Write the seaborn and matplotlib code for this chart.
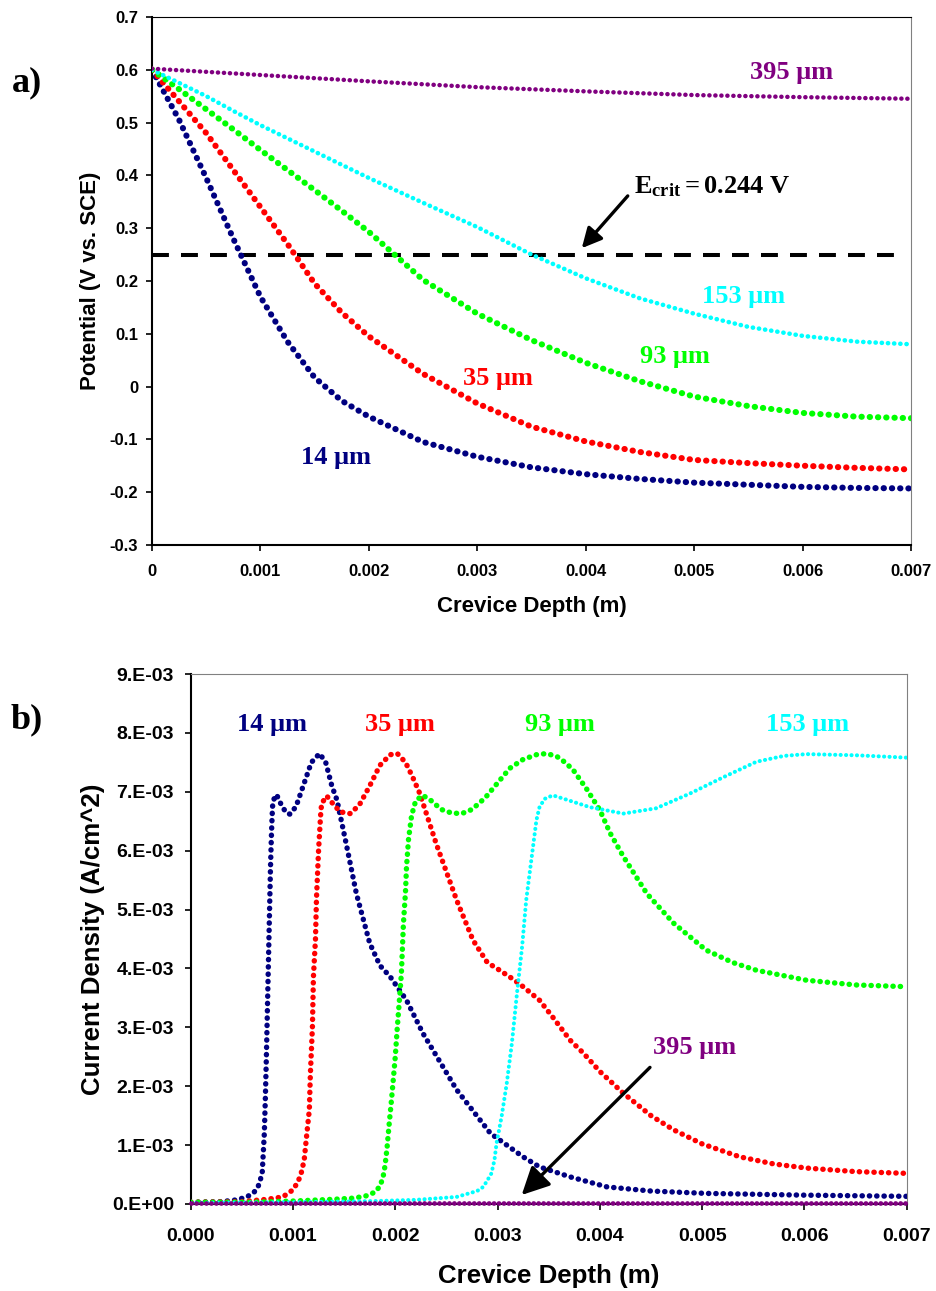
import matplotlib
matplotlib.use("Agg")
import matplotlib.pyplot as plt
import seaborn as sns
import pandas as pd

# ---------------- panel a) potential vs crevice depth ----------------
depth_a = [0, 0.00025, 0.0005, 0.00075, 0.001, 0.00125, 0.0015, 0.00175, 0.002,
           0.0025, 0.003, 0.0035, 0.004, 0.0045, 0.005, 0.0055, 0.006, 0.0065, 0.007]
pot_14 = [0.60, 0.505, 0.395, 0.28, 0.17, 0.085, 0.017, -0.027, -0.057,
          -0.105, -0.133, -0.153, -0.166, -0.175, -0.182, -0.186, -0.190, -0.192, -0.193]
pot_35 = [0.60, 0.54, 0.48, 0.41, 0.34, 0.27, 0.195, 0.14, 0.095,
          0.024, -0.032, -0.076, -0.104, -0.124, -0.139, -0.145, -0.150, -0.154, -0.157]
pot_93 = [0.60, 0.563, 0.525, 0.487, 0.448, 0.41, 0.372, 0.333, 0.293,
          0.202, 0.138, 0.088, 0.045, 0.010, -0.019, -0.037, -0.050, -0.057, -0.060]
pot_153 = [0.60, 0.575, 0.55, 0.522, 0.495, 0.47, 0.445, 0.42, 0.395,
           0.348, 0.302, 0.25, 0.205, 0.167, 0.138, 0.113, 0.096, 0.085, 0.080]
depth_a395 = [0, 0.001, 0.002, 0.003, 0.004, 0.005, 0.006, 0.007]
pot_395 = [0.602, 0.590, 0.578, 0.567, 0.559, 0.552, 0.548, 0.545]
e_crit_line = 0.25
e_crit_end = 0.0069

xticks_a = [0, 0.001, 0.002, 0.003, 0.004, 0.005, 0.006, 0.007]
xticklabels_a = ["0", "0.001", "0.002", "0.003", "0.004", "0.005", "0.006", "0.007"]
yticks_a = [-0.3, -0.2, -0.1, 0, 0.1, 0.2, 0.3, 0.4, 0.5, 0.6, 0.7]
yticklabels_a = ["-0.3", "-0.2", "-0.1", "0", "0.1", "0.2", "0.3", "0.4", "0.5", "0.6", "0.7"]

# ---------------- panel b) current density vs crevice depth ----------------
d_14 = [0, 0.0003, 0.00045, 0.00055, 0.00062, 0.00066, 0.00068, 0.0007, 0.00072, 0.00073,
        0.00074, 0.00075, 0.00076, 0.00077, 0.00078, 0.00079, 0.0008, 0.00082, 0.00084,
        0.00088, 0.00093, 0.00097, 0.00103, 0.0011, 0.00118, 0.00126, 0.00132, 0.00138,
        0.00143, 0.00152, 0.00162, 0.00175, 0.00185, 0.00195, 0.00211, 0.00227, 0.0026,
        0.00293, 0.00325, 0.00341, 0.00371, 0.00407, 0.0045, 0.00504, 0.006, 0.007]
i_14 = [0.03, 0.04, 0.07, 0.12, 0.20, 0.30, 0.40, 0.55, 1.2, 1.8,
        2.5, 3.3, 4.1, 4.9, 5.7, 6.3, 6.75, 6.92, 6.95,
        6.8, 6.65, 6.62, 6.75, 7.1, 7.5, 7.65, 7.5, 7.1,
        6.86, 6.12, 5.27, 4.43, 4.05, 3.86, 3.46, 2.9, 1.94,
        1.2, 0.8, 0.63, 0.46, 0.29, 0.22, 0.18, 0.15, 0.13]
d_35 = [0, 0.0005, 0.00075, 0.0009, 0.001, 0.00105, 0.00108, 0.00111, 0.00113, 0.00116,
        0.00117, 0.00119, 0.0012, 0.00122, 0.00123, 0.00124, 0.00125, 0.00126, 0.00127,
        0.00128, 0.00133, 0.00138, 0.00146, 0.00156, 0.00165, 0.00175, 0.00185, 0.00195,
        0.00202, 0.0021, 0.00217, 0.00224, 0.0024, 0.0026, 0.00276, 0.0029, 0.00302,
        0.00315, 0.00325, 0.00341, 0.00355, 0.00371, 0.00384, 0.004, 0.00423, 0.0045,
        0.00472, 0.005, 0.00537, 0.0057, 0.00602, 0.0065, 0.007]
i_35 = [0.03, 0.04, 0.08, 0.12, 0.24, 0.38, 0.52, 0.75, 1.1, 1.6,
        2.2, 3.0, 3.86, 4.5, 5.2, 5.6, 6.0, 6.3, 6.6,
        6.8, 6.93, 6.82, 6.66, 6.63, 6.78, 7.1, 7.45, 7.63,
        7.65, 7.5, 7.25, 6.97, 6.12, 5.16, 4.48, 4.1, 3.97,
        3.82, 3.69, 3.46, 3.15, 2.78, 2.56, 2.25, 1.88, 1.5,
        1.26, 1.02, 0.80, 0.68, 0.61, 0.55, 0.52]
d_93 = [0, 0.0006, 0.001, 0.0014, 0.0016, 0.00172, 0.0018, 0.00185, 0.00188, 0.0019,
        0.00192, 0.00194, 0.00196, 0.00198, 0.002, 0.00202, 0.00204, 0.00206, 0.00208,
        0.0021, 0.00211, 0.00213, 0.00216, 0.0022, 0.00227, 0.00235, 0.00245, 0.00255,
        0.00265, 0.00275, 0.00288, 0.003, 0.00312, 0.00325, 0.00338, 0.00348, 0.00358,
        0.00366, 0.00374, 0.00387, 0.004, 0.0041, 0.00423, 0.00446, 0.00472, 0.00504,
        0.0053, 0.00553, 0.00602, 0.0065, 0.007]
i_93 = [0.03, 0.03, 0.05, 0.08, 0.10, 0.14, 0.20, 0.30, 0.45, 0.65,
        0.96, 1.35, 1.71, 2.1, 2.5, 3.0, 3.45, 3.92, 4.77,
        5.3, 5.73, 6.2, 6.6, 6.85, 6.94, 6.85, 6.7, 6.64,
        6.63, 6.7, 6.9, 7.15, 7.4, 7.55, 7.63, 7.65, 7.6,
        7.5, 7.37, 7.05, 6.69, 6.3, 5.9, 5.27, 4.77, 4.31,
        4.1, 3.97, 3.80, 3.72, 3.69]
d_153 = [0, 0.001, 0.0018, 0.0022, 0.0026, 0.0028, 0.00286, 0.0029, 0.00294, 0.00297,
         0.00299, 0.00304, 0.00309, 0.00314, 0.00319, 0.00324, 0.00328, 0.00333, 0.00338,
         0.00341, 0.00346, 0.00354, 0.00365, 0.0039, 0.00423, 0.00455, 0.00488, 0.00521,
         0.00553, 0.0058, 0.00602, 0.00651, 0.007]
i_153 = [0.02, 0.03, 0.05, 0.07, 0.12, 0.22, 0.29, 0.40, 0.52, 0.75,
         1.03, 1.49, 2.05, 2.73, 3.58, 4.37, 5.16, 5.84, 6.52,
         6.74, 6.88, 6.94, 6.88, 6.74, 6.63, 6.72, 6.97, 7.25,
         7.51, 7.61, 7.64, 7.62, 7.58]
d_395 = [0, 0.001, 0.002, 0.003, 0.004, 0.005, 0.006, 0.007]
i_395 = [0.01, 0.01, 0.01, 0.01, 0.01, 0.01, 0.01, 0.01]
i_scale = 1e-3

xticks_b = [0, 0.001, 0.002, 0.003, 0.004, 0.005, 0.006, 0.007]
xticklabels_b = ["0.000", "0.001", "0.002", "0.003", "0.004", "0.005", "0.006", "0.007"]
yticks_b = [0, 0.001, 0.002, 0.003, 0.004, 0.005, 0.006, 0.007, 0.008, 0.009]
yticklabels_b = ["0.E+00", "1.E-03", "2.E-03", "3.E-03", "4.E-03", "5.E-03",
                 "6.E-03", "7.E-03", "8.E-03", "9.E-03"]

labels = ["14 \u03bcm", "35 \u03bcm", "93 \u03bcm", "153 \u03bcm", "395 \u03bcm"]
colors = ["#000080", "#ff0000", "#00ff00", "#00ffff", "#800080"]

# ---------------- style ----------------
sns.set_theme(style="white")
plt.rcParams["font.family"] = ["Liberation Sans", "DejaVu Sans"]
plt.rcParams["font.weight"] = "bold"
plt.rcParams["axes.labelweight"] = "bold"
plt.rcParams["text.color"] = "black"
plt.rcParams["axes.labelcolor"] = "black"
plt.rcParams["mathtext.fontset"] = "custom"
plt.rcParams["mathtext.rm"] = "Liberation Serif"
plt.rcParams["mathtext.bf"] = "Liberation Serif:bold"
plt.rcParams["mathtext.it"] = "Liberation Serif:italic"

fig = plt.figure(figsize=(9.37, 12.91), dpi=100)
ax_a = fig.add_axes([0.1622, 0.5779, 0.8100, 0.4090])
ax_b = fig.add_axes([0.2035, 0.0674, 0.7642, 0.4105])

SERIF = "Liberation Serif"


def dotted(ax, x, y, color, lw, gap=1.3, clip=True, z=3):
    df = pd.DataFrame({"x": x, "y": y})
    sns.lineplot(data=df, x="x", y="y", ax=ax, color=color, linewidth=lw,
                 linestyle=(0, (0.05, gap)), dash_capstyle="round",
                 legend=False, sort=False, zorder=z, clip_on=clip)


def style(ax, xt, xtl, yt, ytl, fs, xpad, ypad):
    ax.set_xticks(xt)
    ax.set_xticklabels(xtl)
    ax.set_yticks(yt)
    ax.set_yticklabels(ytl)
    for s in ["left", "bottom"]:
        ax.spines[s].set_color("black")
        ax.spines[s].set_linewidth(1.5)
    ax.spines["top"].set_color("black")
    ax.spines["top"].set_linewidth(0.8)
    ax.spines["right"].set_color("#808080")
    ax.spines["right"].set_linewidth(0.8)
    ax.tick_params(axis="both", direction="out", length=4, width=1.2,
                   colors="black", labelsize=fs, left=True, bottom=True)
    ax.tick_params(axis="x", pad=xpad)
    ax.tick_params(axis="y", pad=ypad)
    for t in ax.get_xticklabels() + ax.get_yticklabels():
        t.set_fontweight("bold")
    ax.grid(False)
    ax.set_facecolor("white")


# ---------------- panel a ----------------
sns.lineplot(x=[0, e_crit_end], y=[e_crit_line, e_crit_line], ax=ax_a, color="black",
             linewidth=2.9, linestyle=(0, (4.2, 3.0)), legend=False, zorder=2)
dotted(ax_a, depth_a, pot_14, colors[0], 4.4)
dotted(ax_a, depth_a, pot_35, colors[1], 4.4)
dotted(ax_a, depth_a, pot_93, colors[2], 4.4)
dotted(ax_a, depth_a, pot_153, colors[3], 3.3)
dotted(ax_a, depth_a395, pot_395, colors[4], 3.2)

ax_a.set_xlim(0, 0.007)
ax_a.set_ylim(-0.3, 0.7)
style(ax_a, xticks_a, xticklabels_a, yticks_a, yticklabels_a, 12, 10, 6)
ax_a.set_xlabel("Crevice Depth (m)", fontsize=16, fontweight="bold", labelpad=12)
ax_a.set_ylabel("Potential (V vs. SCE)", fontsize=16, fontweight="bold", labelpad=6)

lab_fs = 19
ax_a.text(0.005895, 0.594, labels[4], color=colors[4], fontsize=lab_fs,
          family=SERIF, fontweight="bold", ha="center", va="center")
ax_a.text(0.005452, 0.170, labels[3], color=colors[3], fontsize=lab_fs,
          family=SERIF, fontweight="bold", ha="center", va="center")
ax_a.text(0.004825, 0.056, labels[2], color=colors[2], fontsize=lab_fs,
          family=SERIF, fontweight="bold", ha="center", va="center")
ax_a.text(0.003192, 0.016, labels[1], color=colors[1], fontsize=lab_fs,
          family=SERIF, fontweight="bold", ha="center", va="center")
ax_a.text(0.0017, -0.135, labels[0], color=colors[0], fontsize=lab_fs,
          family=SERIF, fontweight="bold", ha="center", va="center")
ax_a.text(0.00445, 0.378, r"$\mathbf{E_{crit}=0.244\ V}$", color="black",
          fontsize=lab_fs, ha="left", va="center")
ax_a.annotate("", xy=(0.003964, 0.262), xytext=(0.004388, 0.361),
              arrowprops=dict(arrowstyle="-|>", lw=2.4, color="black",
                              shrinkA=0, shrinkB=0, mutation_scale=30))

# ---------------- panel b ----------------
dotted(ax_b, d_14, [v * i_scale for v in i_14], colors[0], 3.9)
dotted(ax_b, d_35, [v * i_scale for v in i_35], colors[1], 3.9)
dotted(ax_b, d_93, [v * i_scale for v in i_93], colors[2], 3.9)
dotted(ax_b, d_153, [v * i_scale for v in i_153], colors[3], 2.9)
dotted(ax_b, d_395, [v * i_scale for v in i_395], colors[4], 3.4, gap=1.0,
       clip=False, z=4)

ax_b.set_xlim(0, 0.007)
ax_b.set_ylim(0, 0.009)
style(ax_b, xticks_b, xticklabels_b, yticks_b, yticklabels_b, 14, 13, 8)
ax_b.spines["top"].set_color("#808080")
ax_b.set_xlabel("Crevice Depth (m)", fontsize=18.6, fontweight="bold", labelpad=14)
ax_b.set_ylabel("Current Density (A/cm^2)", fontsize=18.6, fontweight="bold", labelpad=5)

yb = 8.15e-3
ax_b.text(0.000795, yb, labels[0], color=colors[0], fontsize=lab_fs,
          family=SERIF, fontweight="bold", ha="center", va="center")
ax_b.text(0.002046, yb, labels[1], color=colors[1], fontsize=lab_fs,
          family=SERIF, fontweight="bold", ha="center", va="center")
ax_b.text(0.00361, yb, labels[2], color=colors[2], fontsize=lab_fs,
          family=SERIF, fontweight="bold", ha="center", va="center")
ax_b.text(0.006034, yb, labels[3], color=colors[3], fontsize=lab_fs,
          family=SERIF, fontweight="bold", ha="center", va="center")
ax_b.text(0.00493, 2.65e-3, labels[4], color=colors[4], fontsize=lab_fs,
          family=SERIF, fontweight="bold", ha="center", va="center")
ax_b.annotate("", xy=(0.003236, 0.153e-3), xytext=(0.00449, 2.32e-3),
              arrowprops=dict(arrowstyle="-|>", lw=2.4, color="black",
                              shrinkA=0, shrinkB=0, mutation_scale=42))

fig.text(27 / 937, 1 - 83 / 1291, "a)", fontsize=26, family=SERIF,
         fontweight="bold", ha="center", va="center")
fig.text(27 / 937, 1 - 720 / 1291, "b)", fontsize=26, family=SERIF,
         fontweight="bold", ha="center", va="center")

fig.savefig("out.png", dpi=100, facecolor="white")
